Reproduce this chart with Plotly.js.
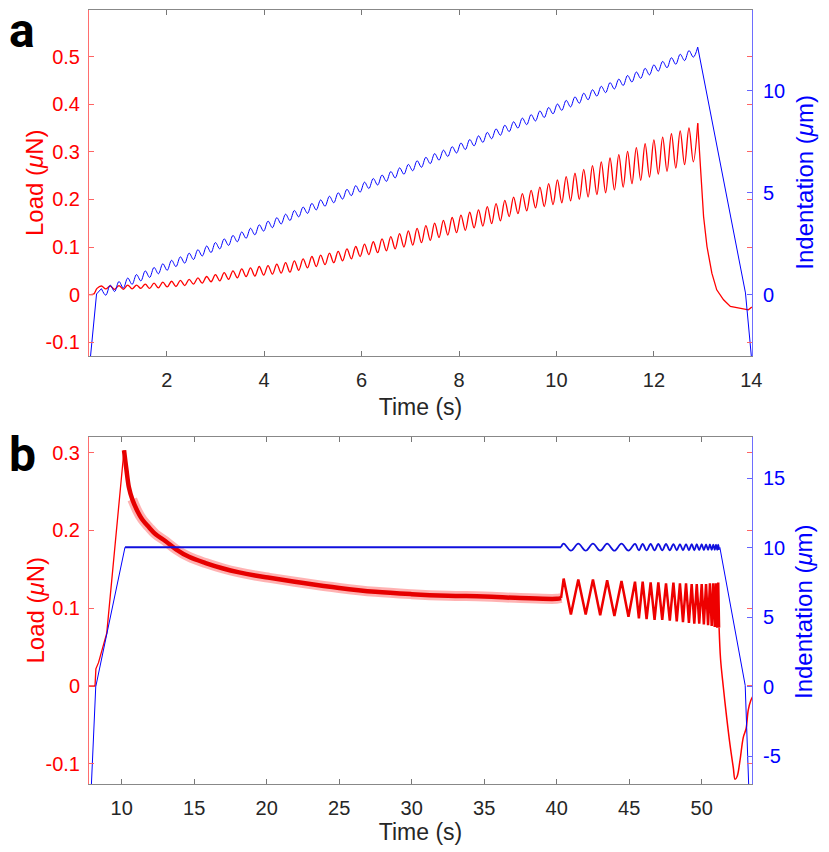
<!DOCTYPE html>
<html>
<head>
<meta charset="utf-8">
<script src="https://cdn.plot.ly/plotly-3.0.1.min.js"></script>
<style>
  body { margin: 0; background: #fff; }
  #chart { width: 829px; height: 852px; }
</style>
</head>
<body>
<div id="chart"></div>
<script>
// ---- panel a : ramp loading with superposed oscillation ----
// times of the oscillation peaks / troughs (s), alternating P, T, P ...
const tOscA = [
  0.66, 0.75, 0.84, 0.93, 1.02, 1.11, 1.20, 1.29, 1.38, 1.47,
  1.56, 1.65, 1.74, 1.83, 1.92, 2.01, 2.10, 2.19, 2.28, 2.37,
  2.46, 2.55, 2.64, 2.73, 2.82, 2.91, 3.00, 3.09, 3.18, 3.27,
  3.36, 3.45, 3.54, 3.63, 3.72, 3.81, 3.90, 3.99, 4.08, 4.17,
  4.26, 4.35, 4.44, 4.53, 4.62, 4.71, 4.80, 4.89, 4.98, 5.07,
  5.16, 5.25, 5.34, 5.43, 5.52, 5.61, 5.70, 5.79, 5.88, 5.97,
  6.06, 6.15, 6.24, 6.33, 6.42, 6.51, 6.60, 6.69, 6.78, 6.87,
  6.96, 7.05, 7.14, 7.23, 7.32, 7.41, 7.50, 7.59, 7.68, 7.77,
  7.86, 7.95, 8.04, 8.13, 8.22, 8.31, 8.40, 8.49, 8.58, 8.67,
  8.76, 8.85, 8.94, 9.03, 9.12, 9.21, 9.30, 9.39, 9.48, 9.57,
  9.66, 9.75, 9.84, 9.93, 10.02, 10.11, 10.20, 10.29, 10.38, 10.47,
  10.56, 10.65, 10.74, 10.83, 10.92, 11.01, 11.10, 11.19, 11.28, 11.37,
  11.46, 11.55, 11.64, 11.73, 11.82, 11.91, 12.00, 12.09, 12.18, 12.27,
  12.36, 12.45, 12.54, 12.63, 12.72, 12.81, 12.90
];
// load (uN) at those times
const loadOscA = [
  0.018, 0.012, 0.018, 0.011, 0.019, 0.011, 0.020, 0.012, 0.020, 0.013,
  0.022, 0.013, 0.024, 0.014, 0.026, 0.016, 0.028, 0.017, 0.030, 0.019,
  0.032, 0.022, 0.035, 0.024, 0.038, 0.027, 0.042, 0.029, 0.046, 0.032,
  0.050, 0.035, 0.054, 0.038, 0.056, 0.039, 0.059, 0.041, 0.061, 0.043,
  0.064, 0.045, 0.067, 0.047, 0.071, 0.051, 0.075, 0.056, 0.080, 0.059,
  0.083, 0.063, 0.087, 0.067, 0.091, 0.071, 0.096, 0.075, 0.101, 0.080,
  0.106, 0.084, 0.111, 0.088, 0.117, 0.092, 0.122, 0.096, 0.128, 0.100,
  0.134, 0.104, 0.139, 0.109, 0.145, 0.114, 0.150, 0.120, 0.156, 0.125,
  0.162, 0.130, 0.167, 0.135, 0.173, 0.140, 0.178, 0.144, 0.185, 0.149,
  0.191, 0.155, 0.198, 0.164, 0.205, 0.170, 0.212, 0.176, 0.219, 0.182,
  0.226, 0.185, 0.233, 0.189, 0.241, 0.193, 0.248, 0.197, 0.255, 0.200,
  0.263, 0.205, 0.271, 0.210, 0.279, 0.214, 0.287, 0.220, 0.294, 0.226,
  0.301, 0.233, 0.309, 0.240, 0.317, 0.247, 0.325, 0.253, 0.331, 0.259,
  0.338, 0.266, 0.344, 0.273, 0.350, 0.279, 0.360
];
// indentation (um) at those times
const indOscA = [
  0.31, -0.01, 0.48, 0.17, 0.66, 0.34, 0.83, 0.52, 1.00, 0.69,
  1.18, 0.86, 1.35, 1.04, 1.53, 1.21, 1.70, 1.39, 1.87, 1.56,
  2.05, 1.74, 2.22, 1.91, 2.40, 2.08, 2.57, 2.26, 2.75, 2.43,
  2.92, 2.61, 3.09, 2.78, 3.27, 2.95, 3.44, 3.13, 3.62, 3.30,
  3.79, 3.48, 3.96, 3.65, 4.14, 3.83, 4.31, 4.00, 4.49, 4.17,
  4.66, 4.35, 4.84, 4.52, 5.01, 4.70, 5.18, 4.87, 5.36, 5.04,
  5.53, 5.22, 5.71, 5.39, 5.88, 5.57, 6.05, 5.74, 6.23, 5.92,
  6.40, 6.09, 6.58, 6.26, 6.75, 6.44, 6.93, 6.61, 7.10, 6.79,
  7.27, 6.96, 7.45, 7.13, 7.62, 7.31, 7.80, 7.48, 7.97, 7.66,
  8.14, 7.83, 8.32, 8.01, 8.49, 8.18, 8.67, 8.35, 8.84, 8.53,
  9.02, 8.70, 9.19, 8.88, 9.36, 9.05, 9.54, 9.22, 9.71, 9.40,
  9.89, 9.57, 10.06, 9.75, 10.23, 9.92, 10.41, 10.10, 10.58, 10.27,
  10.76, 10.44, 10.93, 10.62, 11.11, 10.79, 11.28, 10.97, 11.45, 11.14,
  11.63, 11.31, 11.80, 11.49, 11.98, 11.66, 12.15
];
const tLoadStartA = [0.41, 0.50, 0.57];
const loadStartA = [0.000, 0.001, 0.013];
const tLoadEndA = [12.96, 13.02, 13.09, 13.19, 13.29, 13.43, 13.57, 13.77, 13.94, 14.01];
const loadEndA = [0.255, 0.164, 0.101, 0.045, 0.010, -0.011, -0.025, -0.029, -0.032, -0.026];
const tIndStartA = [0.42, 0.56];
const indStartA = [-3.4, 0.05];
const tIndEndA = [13.88, 14.02];
const indEndA = [0.10, -3.5];

// ---- panel b : ramp, hold, then sweep of oscillations ----
const tLoadRampB = [7.75, 8.16, 8.22, 8.40, 8.97, 10.16];
const loadRampB = [0.000, 0.000, 0.022, 0.030, 0.068, 0.303];
const tLoadDecayB = [10.16, 10.32, 10.50, 10.73, 11.08, 11.42, 11.88, 12.34, 13.03, 13.72,
  14.64, 15.79, 17.0, 18.1, 19.2, 20.2, 22.3, 25.0, 27.5, 30.0, 32.5, 35.0, 37.5, 40.0, 40.3];
const loadDecayB = [0.303, 0.279, 0.255, 0.240, 0.225, 0.214, 0.204, 0.195, 0.186, 0.176,
  0.166, 0.158, 0.151, 0.146, 0.142, 0.139, 0.133, 0.126, 0.121, 0.118, 0.116, 0.115, 0.113, 0.112, 0.113];
const tSweepB = [
  40.48, 40.98, 41.49, 42.00, 42.50, 43.00, 43.48, 43.98, 44.47, 44.95,
  45.40, 45.67, 45.93, 46.20, 46.48, 46.75, 47.01, 47.28, 47.54, 47.80,
  48.05, 48.28, 48.50, 48.71, 48.92, 49.12, 49.31, 49.49, 49.66, 49.83,
  50.00, 50.15, 50.30, 50.44, 50.57, 50.69, 50.80, 50.90, 50.99, 51.07,
  51.14, 51.20
];
const loadSweepB = [
  0.138, 0.092, 0.137, 0.092, 0.137, 0.091, 0.136, 0.090, 0.135, 0.089,
  0.134, 0.087, 0.134, 0.086, 0.133, 0.085, 0.133, 0.085, 0.132, 0.084,
  0.133, 0.083, 0.132, 0.082, 0.132, 0.081, 0.131, 0.080, 0.131, 0.080,
  0.131, 0.079, 0.131, 0.078, 0.132, 0.077, 0.132, 0.076, 0.132, 0.075,
  0.133, 0.075
];
const indSweepB = [
  10.30, 9.80, 10.30, 9.80, 10.30, 9.80, 10.30, 9.80, 10.30, 9.80,
  10.28, 9.82, 10.28, 9.82, 10.28, 9.82, 10.28, 9.82, 10.28, 9.82,
  10.27, 9.83, 10.27, 9.83, 10.27, 9.83, 10.27, 9.83, 10.26, 9.84,
  10.26, 9.84, 10.25, 9.85, 10.25, 9.85, 10.24, 9.86, 10.24, 9.86,
  10.24, 9.86
];
const tLoadDropB = [51.30, 51.49, 51.72, 51.95, 52.18, 52.30, 52.45, 52.64, 52.87, 53.06, 53.21, 53.38, 53.56];
const loadDropB = [0.035, -0.001, -0.040, -0.075, -0.105, -0.120, -0.116, -0.096, -0.066, -0.055, -0.031, -0.019, -0.012];
const tIndRampB = [7.90, 8.21, 10.23];
const indRampB = [-7.3, 0.0, 10.05];
const tIndHoldB = [10.23, 40.30];
const indHoldB = [10.05, 10.05];
const tIndDropB = [51.25, 53.00, 53.25];
const indDropB = [10.05, 0.10, -7.3];

// ---- ticks ----
const timeTicksA = [2, 4, 6, 8, 10, 12, 14];
const loadTicksA = [-0.1, 0, 0.1, 0.2, 0.3, 0.4, 0.5];
const loadLabelsA = ['-0.1', '0', '0.1', '0.2', '0.3', '0.4', '0.5'];
const indTicksA = [0, 5, 10];
const timeTicksB = [10, 15, 20, 25, 30, 35, 40, 45, 50];
const loadTicksB = [-0.1, 0, 0.1, 0.2, 0.3];
const loadLabelsB = ['-0.1', '0', '0.1', '0.2', '0.3'];
const indTicksB = [-5, 0, 5, 10, 15];
const indLabelsB = ['-5', '0', '5', '10', '15'];

const RED = '#ff0000';
const BLUE = '#0000ff';
const FONT = 'Liberation Sans, Arial, sans-serif';

function line(x, y, xa, ya, color, width, shape) {
  return {
    x: x, y: y, xaxis: xa, yaxis: ya, type: 'scatter', mode: 'lines',
    line: { color: color, width: width, shape: shape || 'linear' },
    hoverinfo: 'skip', showlegend: false
  };
}
const last = arr => arr[arr.length - 1];

const data = [
  // panel a
  line(tLoadStartA.concat(tOscA), loadStartA.concat(loadOscA), 'x', 'y', RED, 1.3, 'spline'),
  line([last(tOscA)].concat(tLoadEndA), [last(loadOscA)].concat(loadEndA), 'x', 'y', RED, 1.3),
  line(tIndStartA.concat([tOscA[0]]), indStartA.concat([indOscA[0]]), 'x', 'y2', BLUE, 1),
  line(tOscA, indOscA, 'x', 'y2', BLUE, 1, 'spline'),
  line([last(tOscA)].concat(tIndEndA), [last(indOscA)].concat(indEndA), 'x', 'y2', BLUE, 1),
  // panel b
  line(tLoadRampB, loadRampB, 'x2', 'y3', RED, 1.3),
  line(tLoadDecayB.slice(3), loadDecayB.slice(3), 'x2', 'y3', 'rgba(255,0,0,0.3)', 10, 'spline'),
  line(tLoadDecayB, loadDecayB, 'x2', 'y3', '#e60000', 4.5, 'spline'),
  line([last(tLoadDecayB)].concat(tSweepB), [last(loadDecayB)].concat(loadSweepB), 'x2', 'y3', '#ee0000', 2.5),
  line([last(tSweepB)].concat(tLoadDropB), [last(loadSweepB)].concat(loadDropB), 'x2', 'y3', RED, 1.5, 'spline'),
  line(tIndRampB, indRampB, 'x2', 'y4', BLUE, 1),
  line(tIndHoldB, indHoldB, 'x2', 'y4', '#1010dd', 2),
  line([last(tIndHoldB)].concat(tSweepB), [last(indHoldB)].concat(indSweepB), 'x2', 'y4', '#1010dd', 1.8, 'spline'),
  line(tIndDropB, indDropB, 'x2', 'y4', BLUE, 1)
];

const xCommon = {
  ticks: 'inside', ticklen: 5, tickcolor: '#777', showline: true, linecolor: '#888', linewidth: 1,
  mirror: 'ticks', showgrid: false, zeroline: false, ticklabelstandoff: 6,
  tickfont: { family: FONT, size: 20, color: '#262626' }
};
function leftAxis(domain, anchor, range, vals, labels) {
  return {
    domain: domain, anchor: anchor, range: range, tickvals: vals, ticktext: labels,
    ticks: 'inside', ticklen: 5, tickcolor: 'rgb(255,100,100)', showline: true,
    linecolor: 'rgb(255,110,110)', linewidth: 1, mirror: 'ticks', showgrid: false, zeroline: false,
    ticklabelstandoff: 4, tickfont: { family: FONT, size: 20, color: RED }
  };
}
function rightAxis(overlay, anchor, range, vals, labels) {
  return {
    overlaying: overlay, side: 'right', anchor: anchor, range: range, tickvals: vals, ticktext: labels,
    ticks: 'inside', ticklen: 5, tickcolor: 'rgb(100,100,255)', showline: true,
    linecolor: 'rgb(110,110,255)', linewidth: 1, showgrid: false, zeroline: false,
    ticklabelstandoff: 6, tickfont: { family: FONT, size: 20, color: BLUE }
  };
}
function sideTitle(text, color, x, y) {
  return { text: text, xref: 'paper', yref: 'paper', x: x, y: y, xanchor: 'center', yanchor: 'middle',
    textangle: -90, showarrow: false, font: { family: FONT, size: 24, color: color } };
}
function panelLabel(text, y) {
  return { text: '<b>' + text + '</b>', xref: 'paper', yref: 'paper', x: -0.122, y: y,
    xanchor: 'left', yanchor: 'top', showarrow: false, borderpad: 0,
    font: { family: 'Roboto, sans-serif', size: 48, color: '#000' } };
}

const layout = {
  width: 829, height: 852,
  margin: { l: 89, r: 77, t: 10, b: 68 },
  paper_bgcolor: '#fff', plot_bgcolor: '#fff',
  xaxis: Object.assign({}, xCommon, {
    domain: [0, 1], anchor: 'y', range: [0.405, 14.014], tickvals: timeTicksA,
    title: { text: 'Time (s)', font: { family: FONT, size: 23, color: '#262626' }, standoff: 8 }
  }),
  yaxis: leftAxis([0.553, 1], 'x', [-0.129, 0.598], loadTicksA, loadLabelsA),
  yaxis2: rightAxis('y', 'x', [-2.99, 13.97], indTicksA, indTicksA.map(String)),
  xaxis2: Object.assign({}, xCommon, {
    domain: [0, 1], anchor: 'y3', range: [7.745, 53.47], tickvals: timeTicksB,
    title: { text: 'Time (s)', font: { family: FONT, size: 23, color: '#262626' }, standoff: 4 }
  }),
  yaxis3: leftAxis([0, 0.4483], 'x2', [-0.126, 0.32], loadTicksB, loadLabelsB),
  yaxis4: rightAxis('y3', 'x2', [-7.0, 17.98], indTicksB, indLabelsB),
  annotations: [
    panelLabel('a', 1.0116),
    panelLabel('b', 0.4632),
    sideTitle('Load (<i>μ</i>N)', RED, -0.0814, 0.7765),
    sideTitle('Load (<i>μ</i>N)', RED, -0.0814, 0.2242),
    sideTitle('Indentation (<i>μ</i>m)', BLUE, 1.0799, 0.7782),
    sideTitle('Indentation (<i>μ</i>m)', BLUE, 1.0769, 0.2235)
  ]
};

Plotly.newPlot('chart', data, layout, { displayModeBar: false, staticPlot: true });
</script>
</body>
</html>
